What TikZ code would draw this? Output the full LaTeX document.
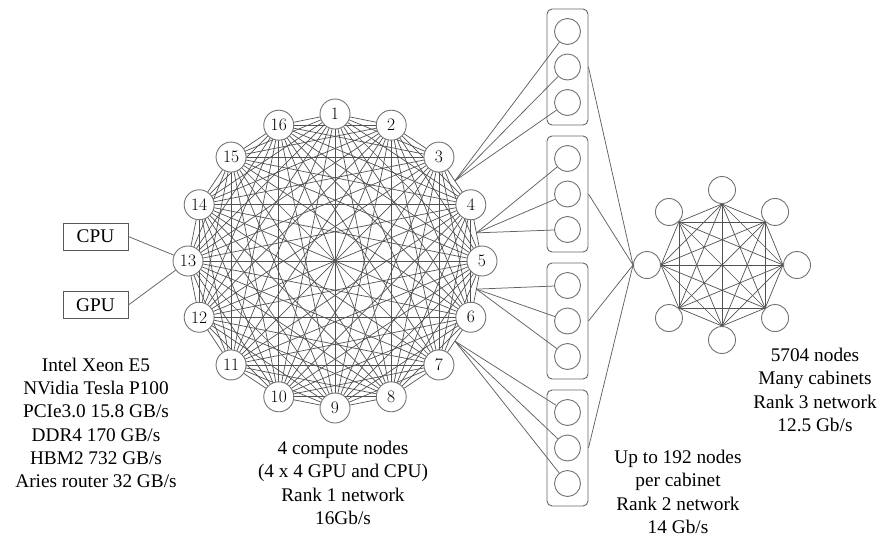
\documentclass[tikz,border=0pt]{standalone}
\usepackage{fontspec}
\newfontfamily\tnr{Liberation Serif}
\usetikzlibrary{calc}
\begin{document}
\begin{tikzpicture}[x=1pt,y=-1pt,
 edge/.style={draw=black!68, line width=0.7pt},
 link/.style={draw=black!62, line width=0.75pt},
 vnode/.style={circle, draw=black!55, fill=white, line width=0.9pt, minimum size=30pt, inner sep=0pt, font=\fontsize{17.5}{17.5}\selectfont},
 snode/.style={circle, draw=black!55, fill=white, line width=0.9pt, minimum size=26pt, inner sep=0pt},
 cab/.style={draw=black!60, rounded corners=5pt, line width=0.9pt, minimum width=41pt, minimum height=116pt, inner sep=0pt},
 chip/.style={draw=black!65, line width=0.8pt, minimum width=65pt, minimum height=27pt, inner sep=0pt, font=\tnr\fontsize{19.3}{23.3}\selectfont},
 caption/.style={align=center, inner sep=0pt, font=\tnr\fontsize{19.3}{23.3}\selectfont}]
\useasboundingbox (0,0) rectangle (879,536);
% Rank 1: complete graph on 16 nodes
\foreach \i in {1,...,16}{
  \coordinate (v\i) at ({335+147*cos(90-(\i-1)*22.5)},{261-147*sin(90-(\i-1)*22.5)});
}
\foreach \i in {1,...,16}{\foreach \j in {1,...,16}{\ifnum\i<\j \draw[edge] (v\i)--(v\j);\fi}}
\foreach \i in {1,...,16}{\node[vnode] (n\i) at (v\i) {\i};}
\coordinate (m1) at ($(v3)!0.5!(v4)$);
\coordinate (m2) at ($(v4)!0.5!(v5)$);
\coordinate (m3) at ($(v5)!0.5!(v6)$);
\coordinate (m4) at ($(v6)!0.5!(v7)$);
% CPU / GPU
\node[chip] (cpu) at (95.5,236.5) {CPU};
\node[chip] (gpu) at (95.5,305) {GPU};
\draw[link] (cpu.east) -- (n13);
\draw[link] (gpu.east) -- (n13);
% Rank 3: complete graph on 8 nodes
\foreach \i/\a in {1/90,2/45,3/0,4/-45,5/-90,6/-135,7/180,8/135}{
  \coordinate (w\i) at ({722+61*cos(\a)},{265-61*sin(\a)});
}
\foreach \i in {1,...,8}{\foreach \j in {1,...,8}{\ifnum\i<\j \draw[edge] (w\i)--(w\j);\fi}}
\foreach \i/\a in {1/90,2/45,3/0,4/-45,5/-90,6/-135,7/180,8/135}{
  \node[snode, minimum size=27pt] (r\i) at ({722+75*cos(\a)},{265-75*sin(\a)}) {};
}
% Rank 2: cabinets
\foreach \k/\y in {1/67,2/194,3/321,4/448}{
  \node[cab] (b\k) at (567.5,\y) {};
  \node[snode] (c\k1) at (567.5,\y-35.5) {};
  \node[snode] (c\k2) at (567.5,\y) {};
  \node[snode] (c\k3) at (567.5,\y+35.5) {};
}
\foreach \k in {1,...,4}{
  \foreach \j in {1,2,3}{\draw[link] (m\k) -- (c\k\j);}
  \draw[link] (b\k.east) -- (r7.west);
}
% captions
\node[caption] (spec) at (96,423) {Intel Xeon E5\\NVidia Tesla P100\\PCIe3.0 15.8 GB/s\\DDR4 170 GB/s\\HBM2 732 GB/s\\Aries router 32 GB/s};
\node[caption] (capone) at (343,483) {4 compute nodes\\(4 x 4 GPU and CPU)\\Rank 1 network\\16Gb/s};
\node[caption] (captwo) at (678,492) {Up to 192 nodes\\per cabinet\\Rank 2 network\\14 Gb/s};
\node[caption] (capthree) at (815,390) {5704 nodes\\Many cabinets\\Rank 3 network\\12.5 Gb/s};
\end{tikzpicture}
\end{document}
